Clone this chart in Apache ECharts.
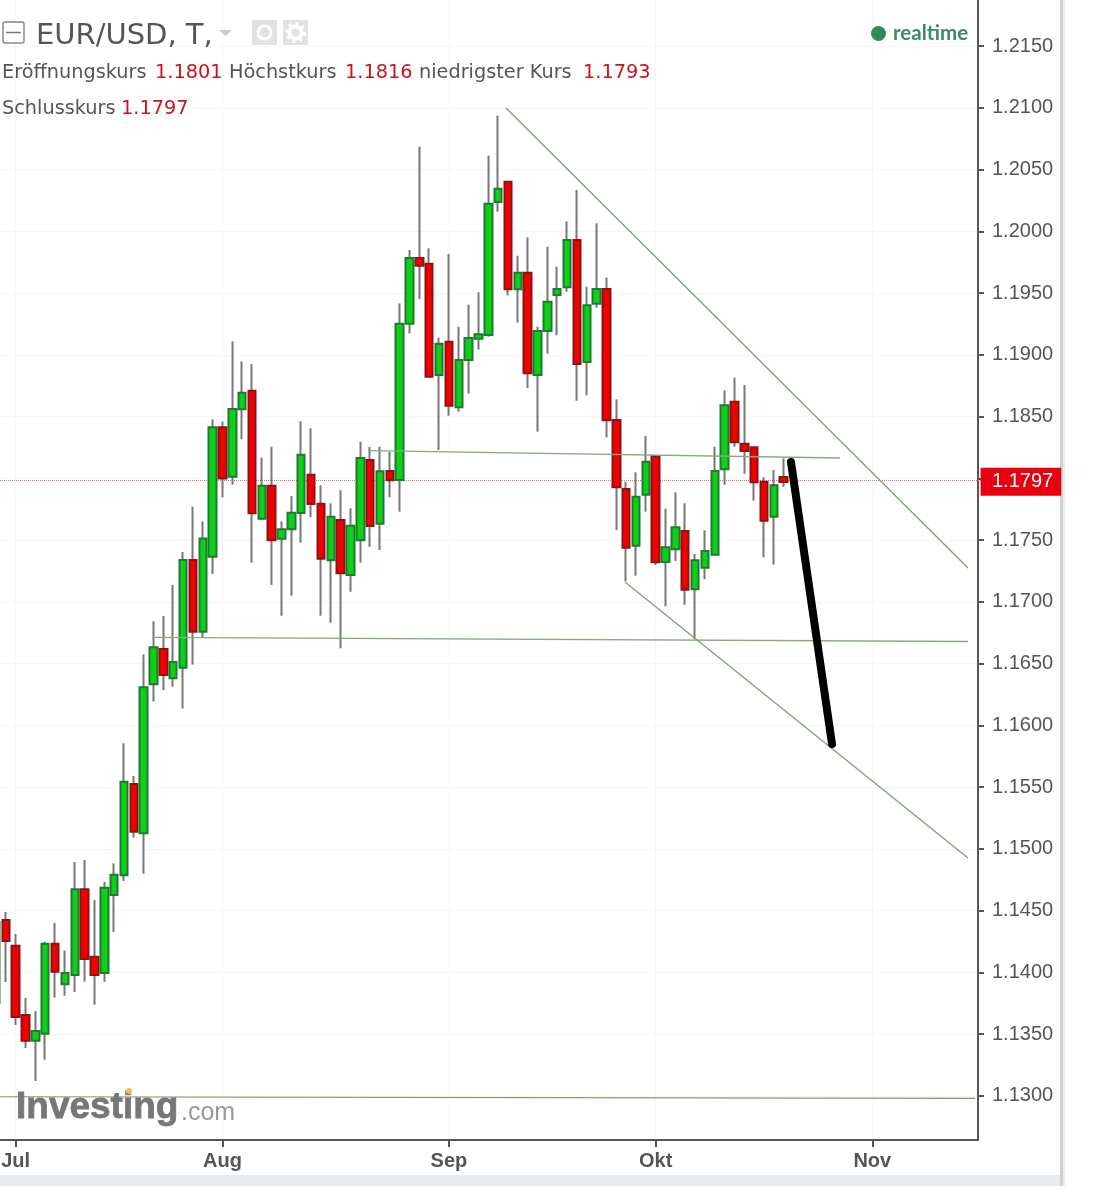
<!DOCTYPE html>
<html><head><meta charset="utf-8">
<style>html,body{margin:0;padding:0;background:#fff}#c{width:1104px;height:1186px}</style>
<script src="https://cdn.jsdelivr.net/npm/echarts@6/dist/echarts.min.js"></script>
</head><body><div id="c"></div>
<script>
const dates = ['06-29','06-30',
'07-03','07-04','07-05','07-06','07-07','07-10','07-11','07-12','07-13','07-14','07-17','07-18','07-19','07-20','07-21','07-24','07-25','07-26','07-27','07-28','07-31',
'08-01','08-02','08-03','08-04','08-07','08-08','08-09','08-10','08-11','08-14','08-15','08-16','08-17','08-18','08-21','08-22','08-23','08-24','08-25','08-28','08-29','08-30','08-31',
'09-01','09-04','09-05','09-06','09-07','09-08','09-11','09-12','09-13','09-14','09-15','09-18','09-19','09-20','09-21','09-22','09-25','09-26','09-27','09-28','09-29',
'10-02','10-03','10-04','10-05','10-06','10-09','10-10','10-11','10-12','10-13','10-16','10-17','10-18','10-19','10-20','10-23','10-24','10-25','10-26','10-27','10-30','10-31',
'11-01','11-02','11-03','11-06','11-07','11-08','11-09','11-10','11-13','11-14','11-15','11-16'];
const monthTicks = {'07-03':'Jul','08-01':'Aug','09-01':'Sep','10-02':'Okt','11-01':'Nov'};
const priceTicks = [1.13,1.135,1.14,1.145,1.15,1.155,1.16,1.165,1.17,1.175,1.18,1.185,1.19,1.195,1.2,1.205,1.21,1.215];

const opens = [1.13751,1.14423,1.14215,1.13654,1.13445,1.13502,1.14231,1.13903,1.13977,1.14672,1.14126,1.13994,1.14626,1.14785,1.15525,1.15125,1.16331,1.16617,1.16380,1.16466,
1.17338,1.16758,1.17365,1.18413,1.18013,1.18559,1.18709,1.17673,1.17940,1.17511,1.17587,1.17719,1.18028,1.17794,1.17336,1.17662,1.17217,1.17498,1.18148,1.17632,
1.18059,1.17986,1.19251,1.19783,1.19737,1.18836,1.19106,1.18575,1.18958,1.19130,1.19160,1.20237,1.20401,1.19530,1.19664,1.18836,1.19192,1.19484,1.19546,1.19929,
1.18941,1.19413,1.19532,1.18472,1.17913,1.17454,1.17867,1.18178,1.17322,1.17425,1.17573,1.17101,1.17276,1.17381,1.18072,1.18620,1.18280,1.18251,1.17972,1.17689,1.1801];
const closes = [1.14407,1.14253,1.13637,1.13445,1.13524,1.14231,1.14004,1.13994,1.14672,1.14107,1.13977,1.14685,1.14790,1.15543,1.15138,1.16307,1.16631,1.16407,1.16512,1.17338,
1.16758,1.17513,1.18413,1.17997,1.18561,1.18693,1.17716,1.17940,1.17498,1.17587,1.17721,1.18191,1.17792,1.17349,1.17689,1.17230,1.17616,1.18164,1.17613,1.18056,
1.17984,1.19251,1.19783,1.19721,1.18822,1.19089,1.18587,1.18958,1.19136,1.19166,1.20223,1.20345,1.19530,1.19664,1.18850,1.19192,1.19430,1.19532,1.19929,1.18925,
1.19400,1.19532,1.18469,1.17927,1.17438,1.17851,1.18134,1.17319,1.17441,1.17603,1.17097,1.17336,1.17411,1.18059,1.18591,1.18291,1.18221,1.17967,1.17656,1.17943,1.1797];
const lows = [1.13751,1.13921,1.13573,1.13386,1.13119,1.13291,1.13794,1.13810,1.13840,1.13923,1.13737,1.13923,1.14326,1.14739,1.15090,1.14798,1.16193,1.16285,1.16312,1.16136,
1.16491,1.16712,1.17225,1.17846,1.17948,1.18316,1.17316,1.17662,1.17136,1.16887,1.17049,1.17478,1.17684,1.16887,1.16830,1.16623,1.17081,1.17316,1.17445,1.17419,
1.17846,1.17729,1.19173,1.19451,1.18822,1.18229,1.18506,1.18539,1.18685,1.19041,1.19146,1.20158,1.19481,1.19260,1.18731,1.18377,1.19009,1.19158,1.19510,1.18628,
1.18672,1.19381,1.18332,1.17581,1.17165,1.17211,1.17729,1.17298,1.16963,1.17330,1.16976,1.16696,1.17182,1.17381,1.17948,1.18255,1.18037,1.17818,1.17360,1.17300,1.1793];
const highs = [1.14447,1.14488,1.14310,1.13791,1.13686,1.14247,1.14399,1.14176,1.14893,1.14909,1.14585,1.14733,1.14882,1.15854,1.15589,1.16574,1.16842,1.16885,1.17136,1.17403,
1.17770,1.17651,1.18477,1.18458,1.19108,1.18946,1.18924,1.18167,1.18255,1.17651,1.17856,1.18461,1.18404,1.17943,1.17797,1.17903,1.17757,1.18296,1.18253,1.18255,
1.18213,1.19416,1.19848,1.20685,1.19862,1.19138,1.19816,1.19227,1.19405,1.19506,1.20612,1.20936,1.20401,1.19802,1.19951,1.19227,1.19875,1.19713,1.20080,1.20334,
1.19551,1.20064,1.19624,1.18639,1.17972,1.18048,1.18342,1.18178,1.17753,1.17886,1.17797,1.17387,1.17578,1.18255,1.18712,1.18814,1.18755,1.18251,1.18008,1.18067,1.1816];

// trend lines: [trading-day index, price]
const upperChannel = [[51.80,1.20998],[98.72,1.17273]];
const neckline = [[37.78,1.18223],[85.72,1.18164]];
const midSupport = [[15.84,1.16712],[98.72,1.16678]];
const lowerChannel = [[63.88,1.17160],[98.72,1.14925]];
const baseSupport = [[0.41,1.12992],[99.43,1.12979]];
const projection = [[80.74,1.18132],[84.91,1.15848]];

const lastPriceLevel = 1.1798;
const lastPriceText = '1.1797';
const titleText = 'EUR/USD, T,';
const ohlcLabels = ['Eröffnungskurs','Höchstkurs','niedrigster Kurs','Schlusskurs'];
const ohlcValues = ['1.1801','1.1816','1.1793','1.1797'];

const AX = '#555';
const GRID = '#f6f6f6';
const isMonth = (i, v) => monthTicks[v] !== undefined;
const wickData = dates.slice(0, opens.length).map((d, i) => [opens[i], closes[i], lows[i], highs[i]]);
const bodyData = wickData.map(r => [r[0], r[1], Math.min(r[0], r[1]), Math.max(r[0], r[1])]);
const trend = (data, color, width, cap) => ({
  type:'line', xAxisIndex:1, yAxisIndex:0, data, symbol:'none', silent:true, z:6,
  lineStyle:{color, width, cap:cap||'butt'}, animation:false
});
const txt = (x, y, text, fill, font, extra) => ({type:'text', x, y, silent:true, z:20,
  style:Object.assign({text, fill, font, verticalAlign:'middle'}, extra||{})});
const SANS = '"DejaVu Sans"';
const LBL = '#555', VAL = '#c8141e';
const ROW = '19.3px ' + SANS;

const chart = echarts.init(document.getElementById('c'), null, {renderer:'canvas'});
chart.setOption({
  animation:false, backgroundColor:'#fff',
  grid:{left:-4, right:123.4, top:0, bottom:1186-1140, containLabel:false, outerBoundsMode:'none'},
  xAxis:[
    {type:'category', data:dates, boundaryGap:false,
     axisLine:{show:true, onZero:false, lineStyle:{color:AX, width:2}},
     axisTick:{show:true, length:7, interval:isMonth, lineStyle:{color:AX, width:2}},
     axisLabel:{interval:isMonth, formatter:v=>monthTicks[v]||'', color:AX, fontFamily:'"Liberation Sans"', fontWeight:'bold', fontSize:20, margin:11, hideOverlap:false},
     splitLine:{show:true, interval:isMonth, lineStyle:{color:GRID, width:1}}},
    {type:'value', min:0, max:100, show:false, position:'top'}
  ],
  yAxis:[{type:'value', position:'right', offset:-2.6, min:1.126417, max:1.218725, scale:true,
     axisLine:{show:true, onZero:false, lineStyle:{color:AX, width:2}},
     axisTick:{show:true, length:6, customValues:priceTicks, lineStyle:{color:AX, width:2}},
     axisLabel:{customValues:priceTicks, formatter:v=>v.toFixed(4), color:'#555', fontFamily:'"Liberation Sans"', fontSize:20, margin:14, padding:[4,0,0,0]},
     splitLine:{show:true, lineStyle:{color:GRID, width:1}}}],
  series:[
    {type:'candlestick', name:'wick', data:wickData, barWidth:1, z:4, silent:true,
     itemStyle:{color:'#777', color0:'#777', borderColor:'#777', borderColor0:'#777', borderWidth:2}},
    {type:'candlestick', name:'body', data:bodyData, barWidth:8, z:5, silent:true,
     itemStyle:{color:'#0fd016', color0:'#f20000', borderColor:'#1f7a35', borderColor0:'#8c1414', borderWidth:2},
     markLine:{silent:true, symbol:'none', precision:5, animation:false, z:3,
       lineStyle:{color:'#f26b6b', type:'dotted', width:1},
       label:{show:true, position:'end', formatter:lastPriceText, color:'#fff', backgroundColor:'#e8000f',
         fontFamily:'"Liberation Sans"', fontSize:20, padding:[5,8,3,11.4], distance:0, lineHeight:20, offset:[0,1]},
       data:[{yAxis:lastPriceLevel}]}},
    trend(upperChannel,'#7f9f72',1.3),
    trend(neckline,'#8aa97e',1.3),
    trend(midSupport,'#8aa97e',1.3),
    trend(lowerChannel,'#7f9f72',1.3),
    trend(baseSupport,'#7a9a6c',1.2),
    trend(projection,'#000',8,'round')
  ],
  graphic:[
    {type:'rect', silent:true, z:1, shape:{x:0,y:1175,width:1061,height:11}, style:{fill:'#e9ecef'}},
    {type:'rect', silent:true, z:1, shape:{x:1060,y:0,width:3,height:1186}, style:{fill:'#d0d0d0'}},
    {type:'rect', silent:true, z:1, shape:{x:1063,y:0,width:2,height:1186}, style:{fill:'#ececec'}},
    {type:'rect', silent:true, z:20, shape:{x:979,y:1138,width:4,height:4}, style:{fill:'#fff'}},
    {type:'rect', silent:true, z:20, shape:{x:3,y:22,width:21,height:21,r:2}, style:{fill:'#fff',stroke:'#888',lineWidth:1.5}},
    {type:'line', silent:true, z:20, shape:{x1:6,y1:32.5,x2:21,y2:32.5}, style:{stroke:'#777',lineWidth:1.5}},
    txt(36,36,titleText,'#555','29px '+SANS),
    {type:'polygon', silent:true, z:20, shape:{points:[[219,30],[232,30],[225.5,36]]}, style:{fill:'#ccc'}},
    {type:'rect', silent:true, z:20, shape:{x:252,y:20,width:25,height:25}, style:{fill:'#e2e2e2'}},
    {type:'circle', silent:true, z:21, shape:{cx:264.5,cy:32.5,r:6.5}, style:{fill:'none',stroke:'#fff',lineWidth:3}},
    {type:'rect', silent:true, z:20, shape:{x:283,y:20,width:25,height:25}, style:{fill:'#e2e2e2'}},
    {type:'circle', silent:true, z:21, shape:{cx:295.5,cy:32.5,r:6}, style:{fill:'none',stroke:'#fff',lineWidth:4}},
    {type:'circle', silent:true, z:21, shape:{cx:295.5,cy:32.5,r:9}, style:{fill:'none',stroke:'#fff',lineWidth:3,lineDash:[3,4]}},
    txt(2,73,ohlcLabels[0],LBL,ROW),
    txt(155,73,ohlcValues[0],VAL,ROW),
    txt(229,73,ohlcLabels[1],LBL,ROW),
    txt(345,73,ohlcValues[1],VAL,ROW),
    txt(419,73,ohlcLabels[2],LBL,ROW),
    txt(583,73,ohlcValues[2],VAL,ROW),
    txt(2,109,ohlcLabels[3],LBL,ROW),
    txt(121,109,ohlcValues[3],VAL,ROW),
    {type:'circle', silent:true, z:20, shape:{cx:878.5,cy:33.5,r:7.5}, style:{fill:'#2e8b5e'}},
    txt(893,33,'realtime','#3c8a66','bold 20.5px Lato'),
    txt(16,1108,'Investing','#777','bold 37px "Liberation Sans"',{stroke:'#777',lineWidth:0.8}),
    txt(181,1113,'.com','#999','25px "Liberation Sans"'),
    {type:'circle', silent:true, z:21, shape:{cx:129,cy:1091,r:3}, style:{fill:'#f4b860'}}
  ]
});
</script></body></html>
